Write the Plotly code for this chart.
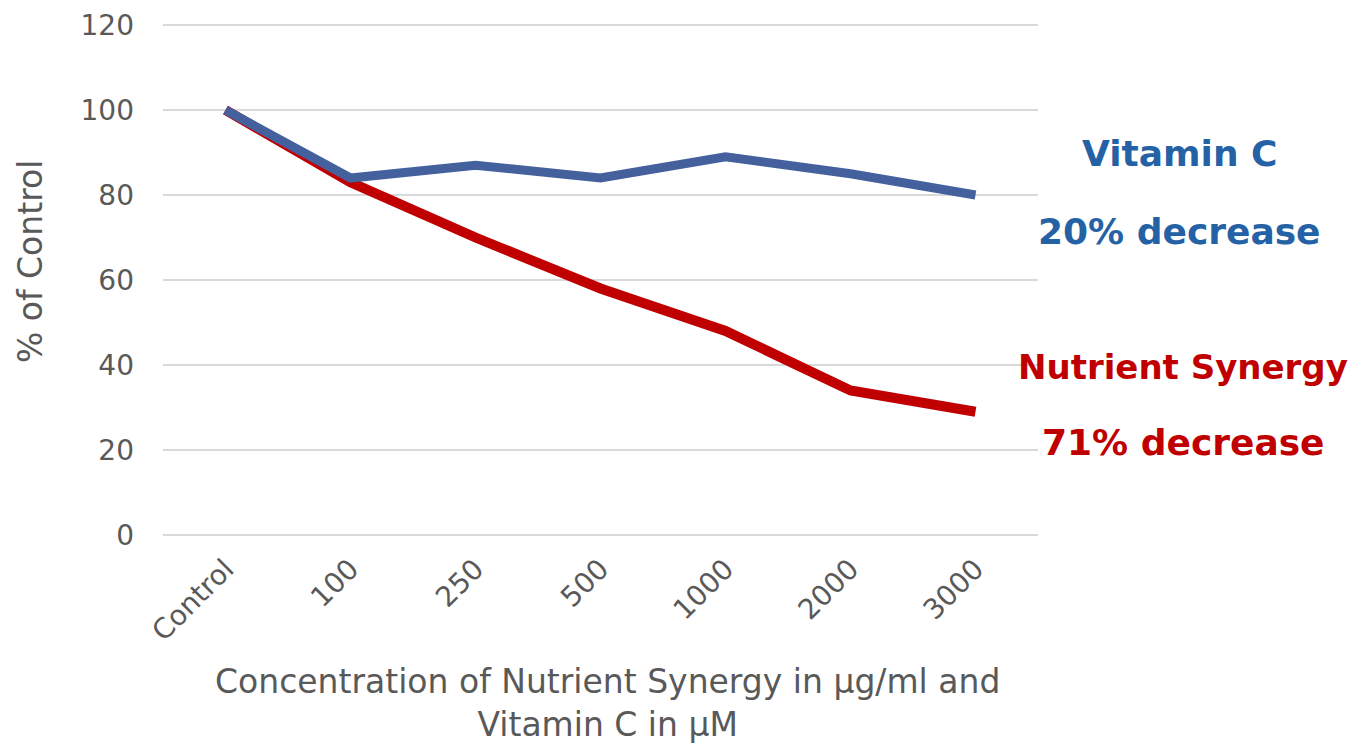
import plotly.graph_objects as go

categories = ["Control", "100", "250", "500", "1000", "2000", "3000"]
vitamin_c = [100, 84, 87, 84, 89, 85, 80]
nutrient_synergy = [100, 83, 70, 58, 48, 34, 29]
y_ticks = [0, 20, 40, 60, 80, 100, 120]

FONT = "DejaVu Sans, sans-serif"
GRAY = "#595959"

fig = go.Figure()
fig.add_trace(go.Scatter(x=categories, y=nutrient_synergy, mode="lines",
                         line=dict(color="#C00000", width=10), name="Nutrient Synergy"))
fig.add_trace(go.Scatter(x=categories, y=vitamin_c, mode="lines",
                         line=dict(color="#44619D", width=9), name="Vitamin C"))

fig.update_layout(
    width=1350, height=740,
    margin=dict(l=155, r=320, t=16, b=212),
    paper_bgcolor="white", plot_bgcolor="white",
    showlegend=False,
    font=dict(family=FONT, color=GRAY),
    xaxis=dict(type="category", range=[-0.5, 6.5], tickangle=-45,
               tickfont=dict(size=28, color=GRAY), automargin=False, ticklabelstandoff=10,
               showgrid=False, showline=False, ticks="", zeroline=False),
    yaxis=dict(range=[-0.25, 120.25], tickvals=y_ticks, tickfont=dict(size=28, color=GRAY),
               showgrid=True, gridcolor="#D9D9D9", gridwidth=1.5, zeroline=False,
               automargin=False, showline=False, ticks="", ticklabelstandoff=28),
    annotations=[
        dict(text="% of Control", xref="paper", yref="paper", x=-0.152, y=0.535,
             textangle=-90, showarrow=False, font=dict(size=33, color=GRAY),
             xanchor="center", yanchor="middle"),
        dict(text="Concentration of Nutrient Synergy in µg/ml and<br>Vitamin C in µM",
             xref="paper", yref="paper", x=0.508, y=-0.243, showarrow=False,
             font=dict(size=33, color=GRAY), xanchor="center", yanchor="top"),
        dict(text="<b>Vitamin C</b>", xref="paper", yref="y", x=1.162, y=89.8,
             showarrow=False, font=dict(size=36, color="#2462A5"), xanchor="center", yanchor="middle"),
        dict(text="<b>20% decrease</b>", xref="paper", yref="y", x=1.162, y=71.5,
             showarrow=False, font=dict(size=36, color="#2462A5"), xanchor="center", yanchor="middle"),
        dict(text="<b>Nutrient Synergy</b>", xref="paper", yref="y", x=1.166, y=39.6,
             showarrow=False, font=dict(size=34, color="#C00000"), xanchor="center", yanchor="middle"),
        dict(text="<b>71% decrease</b>", xref="paper", yref="y", x=1.166, y=21.8,
             showarrow=False, font=dict(size=36, color="#C00000"), xanchor="center", yanchor="middle"),
    ],
)

fig.write_html("out.html")
